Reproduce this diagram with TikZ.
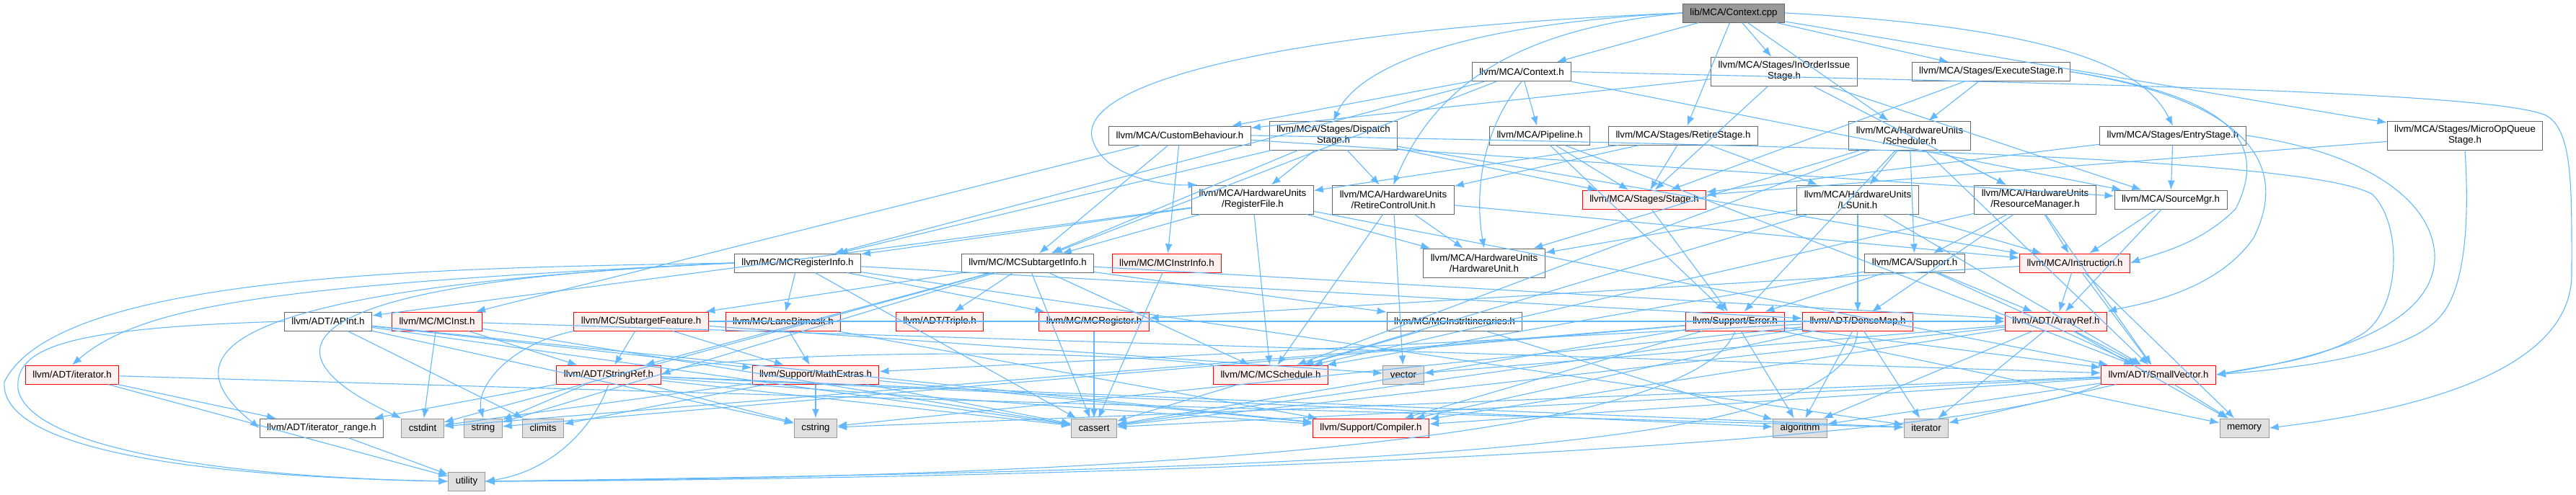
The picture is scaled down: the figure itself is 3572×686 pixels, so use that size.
\documentclass[tikz,border=0pt]{standalone}
\usepackage{fontspec}
\setmainfont{Liberation Sans}
\usepackage{tikz}
\usetikzlibrary{arrows.meta}
\definecolor{dxblue}{HTML}{63B8FF}
\definecolor{dxdark}{HTML}{666666}
\definecolor{dxmid}{HTML}{999999}
\definecolor{dxsys}{HTML}{E0E0E0}
\definecolor{dxpink}{HTML}{FFF0F0}
\tikzset{
  hdr/.style={rectangle,draw=dxdark,fill=white,line width=1pt,align=center,inner xsep=10pt,inner ysep=2pt,minimum height=26pt,font=\fontsize{13.3}{15}\selectfont},
  trunc/.style={hdr,draw=red,fill=dxpink},
  sys/.style={hdr,draw=dxmid,fill=dxsys},
  root/.style={hdr,draw=dxdark,fill=dxmid},
  two/.style={minimum height=40pt},
  inc/.style={-{Latex[length=13pt,width=10pt]},line width=1.1pt,draw=dxblue}
}
\begin{document}
\begin{tikzpicture}[x=1pt,y=-1pt]
\useasboundingbox (0,0) rectangle (3572,686);
\node[root] (cpp) at (2404,18) {lib/MCA/Context.cpp};
\node[hdr] (ctxh) at (2110,99.5) {llvm/MCA/Context.h};
\node[hdr,two] (inorder) at (2474,99) {llvm/MCA/Stages/InOrderIssue\\Stage.h};
\node[hdr] (execute) at (2761,99.5) {llvm/MCA/Stages/ExecuteStage.h};
\node[hdr] (custom) at (1636,188) {llvm/MCA/CustomBehaviour.h};
\node[hdr,two] (dispatch) at (1849,188) {llvm/MCA/Stages/Dispatch\\Stage.h};
\node[hdr] (pipeline) at (2135,188) {llvm/MCA/Pipeline.h};
\node[hdr] (retire) at (2334,188) {llvm/MCA/Stages/RetireStage.h};
\node[hdr,two] (sched) at (2648,188) {llvm/MCA/HardwareUnits\\/Scheduler.h};
\node[hdr] (entry) at (3013,188) {llvm/MCA/Stages/EntryStage.h};
\node[hdr,two] (microop) at (3418,188) {llvm/MCA/Stages/MicroOpQueue\\Stage.h};
\node[hdr,two] (regfile) at (1737,277) {llvm/MCA/HardwareUnits\\/RegisterFile.h};
\node[hdr,two] (rcu) at (1932,277) {llvm/MCA/HardwareUnits\\/RetireControlUnit.h};
\node[trunc] (stage) at (2280,277) {llvm/MCA/Stages/Stage.h};
\node[hdr,two] (lsunit) at (2576,277) {llvm/MCA/HardwareUnits\\/LSUnit.h};
\node[hdr,two] (resmgr) at (2822,277) {llvm/MCA/HardwareUnits\\/ResourceManager.h};
\node[hdr] (srcmgr) at (3010,277) {llvm/MCA/SourceMgr.h};
\node[hdr] (reginfo) at (1106,365) {llvm/MC/MCRegisterInfo.h};
\node[hdr] (sti) at (1425,365) {llvm/MC/MCSubtargetInfo.h};
\node[trunc] (instrinfo) at (1618,365) {llvm/MC/MCInstrInfo.h};
\node[hdr,two] (hwunit) at (2058,365) {llvm/MCA/HardwareUnits\\/HardwareUnit.h};
\node[hdr] (support) at (2655,365) {llvm/MCA/Support.h};
\node[trunc] (instr) at (2877,365) {llvm/MCA/Instruction.h};
\node[hdr] (apint) at (455,446) {llvm/ADT/APInt.h};
\node[trunc] (mcinst) at (606,446) {llvm/MC/MCInst.h};
\node[trunc] (stfeat) at (889,446) {llvm/MC/SubtargetFeature.h};
\node[trunc] (lanebm) at (1086,446) {llvm/MC/LaneBitmask.h};
\node[trunc] (triple) at (1303,446) {llvm/ADT/Triple.h};
\node[trunc] (mcreg) at (1517,446) {llvm/MC/MCRegister.h};
\node[hdr] (itin) at (2017,446) {llvm/MC/MCInstrItineraries.h};
\node[trunc] (error) at (2406,446) {llvm/Support/Error.h};
\node[trunc] (densemap) at (2576,446) {llvm/ADT/DenseMap.h};
\node[trunc] (arrayref) at (2851,446) {llvm/ADT/ArrayRef.h};
\node[trunc] (iterh) at (100,520) {llvm/ADT/iterator.h};
\node[trunc] (strref) at (844,520) {llvm/ADT/StringRef.h};
\node[trunc] (mathext) at (1131,520) {llvm/Support/MathExtras.h};
\node[trunc] (mcsched) at (1762,520) {llvm/MC/MCSchedule.h};
\node[sys] (vector) at (1946,520) {vector};
\node[trunc] (smallvec) at (2993,520) {llvm/ADT/SmallVector.h};
\node[hdr] (itrange) at (446,594) {llvm/ADT/iterator\_range.h};
\node[sys] (cstdint) at (586,594) {cstdint};
\node[sys] (string) at (670,594) {string};
\node[sys] (climits) at (753,594) {climits};
\node[sys] (cstring) at (1131,594) {cstring};
\node[sys] (cassert) at (1517,594) {cassert};
\node[trunc] (compiler) at (1901,594) {llvm/Support/Compiler.h};
\node[sys] (algorithm) at (2496,594) {algorithm};
\node[sys] (iterator) at (2671,594) {iterator};
\node[sys] (memory) at (3112,594) {memory};
\node[sys] (utility) at (647,668) {utility};
\draw[inc] (cpp) -- (ctxh);
\draw[inc] (cpp) -- (inorder);
\draw[inc] (cpp) -- (execute);
\draw[inc] (cpp) -- (sched);
\draw[inc] (cpp) -- (retire);
\draw[inc] (cpp.east) .. controls (2900,40) and (2980,110) .. (entry.north);
\draw[inc] (cpp) -- (microop);
\draw[inc] (cpp.west) .. controls (2000,35) and (1880,100) .. (dispatch.north);
\draw[inc] (cpp.west) .. controls (2100,40) and (1990,120) .. (rcu.north);
\draw[inc] (cpp.west) .. controls (1800,40) and (1500,110) .. (1514,190) .. controls (1525,240) and (1600,258) .. (regfile.165);
\draw[inc] (ctxh) -- (custom);
\draw[inc] (ctxh) -- (pipeline);
\draw[inc] (ctxh.south) .. controls (2040,200) and (2050,300) .. (hwunit.north);
\draw[inc] (ctxh) -- (reginfo);
\draw[inc] (ctxh) -- (sti);
\draw[inc] (ctxh) -- (srcmgr);
\draw[inc] (ctxh.east) .. controls (2800,115) and (3450,125) .. (3530,160) .. controls (3568,180) and (3566,260) .. (3566,380) .. controls (3566,530) and (3300,575) .. (memory.east);
\draw[inc] (inorder) -- (custom);
\draw[inc] (inorder) -- (resmgr);
\draw[inc] (inorder) -- (srcmgr);
\draw[inc] (inorder) -- (stage);
\draw[inc] (execute) -- (sched);
\draw[inc] (execute) -- (stage);
\draw[inc] (execute.east) .. controls (3120,140) and (3175,230) .. (3125,330) .. controls (3070,410) and (2950,425) .. (arrayref.north east);
\draw[inc] (execute.east) .. controls (3100,135) and (3145,200) .. (3100,290) .. controls (3050,340) and (2990,352) .. (instr.east);
\draw[inc] (sched) -- (lsunit);
\draw[inc] (sched) -- (resmgr);
\draw[inc] (sched) -- (support);
\draw[inc] (sched) -- (hwunit);
\draw[inc] (sched) -- (mcsched);
\draw[inc] (sched) -- (smallvec);
\draw[inc] (sched) -- (error);
\draw[inc] (retire) -- (stage);
\draw[inc] (retire) -- (rcu);
\draw[inc] (retire) -- (regfile);
\draw[inc] (retire) -- (lsunit);
\draw[inc] (entry) -- (srcmgr);
\draw[inc] (entry) -- (stage);
\draw[inc] (entry.east) .. controls (3300,215) and (3378,290) .. (3376,360) .. controls (3372,460) and (3200,500) .. (smallvec.east);
\draw[inc] (microop) -- (stage);
\draw[inc] (microop.south) .. controls (3424,300) and (3420,400) .. (3383,440) .. controls (3340,490) and (3200,510) .. (smallvec.east);
\draw[inc] (dispatch) -- (regfile);
\draw[inc] (dispatch) -- (rcu);
\draw[inc] (dispatch) -- (stage);
\draw[inc] (dispatch) -- (reginfo);
\draw[inc] (dispatch) -- (sti);
\draw[inc] (dispatch) -- (instr);
\draw[inc] (custom.east) .. controls (2400,200) and (3200,215) .. (3290,270) .. controls (3330,310) and (3330,420) .. (3281,460) .. controls (3220,500) and (3150,505) .. (smallvec.east);
\draw[inc] (custom) -- (mcinst);
\draw[inc] (custom) -- (instrinfo);
\draw[inc] (custom) -- (sti);
\draw[inc] (custom) -- (srcmgr);
\draw[inc] (pipeline) -- (stage);
\draw[inc] (pipeline) -- (error);
\draw[inc] (pipeline) -- (smallvec);
\draw[inc] (regfile) -- (apint);
\draw[inc] (regfile) -- (smallvec);
\draw[inc] (regfile) -- (reginfo);
\draw[inc] (regfile) -- (mcsched);
\draw[inc] (regfile) -- (sti);
\draw[inc] (regfile) -- (hwunit);
\draw[inc] (rcu) -- (mcsched);
\draw[inc] (rcu) -- (hwunit);
\draw[inc] (rcu) -- (instr);
\draw[inc] (rcu) -- (vector);
\draw[inc] (stage) -- (error);
\draw[inc] (lsunit) -- (densemap);
\draw[inc] (lsunit) -- (smallvec);
\draw[inc] (lsunit) -- (mcsched);
\draw[inc] (lsunit) -- (hwunit);
\draw[inc] (lsunit) -- (instr);
\draw[inc] (resmgr) -- (support);
\draw[inc] (resmgr) -- (instr);
\draw[inc] (resmgr) -- (densemap);
\draw[inc] (resmgr) -- (smallvec);
\draw[inc] (resmgr) -- (mcsched);
\draw[inc] (srcmgr) -- (instr);
\draw[inc] (srcmgr) -- (arrayref);
\draw[inc] (reginfo.west) .. controls (400,395) and (200,420) .. (iterh.north);
\draw[inc] (reginfo.west) .. controls (300,400) and (230,490) .. (itrange.west);
\draw[inc] (reginfo) -- (lanebm);
\draw[inc] (reginfo) -- (mcreg);
\draw[inc] (reginfo) -- (densemap);
\draw[inc] (reginfo) -- (cassert);
\draw[inc] (reginfo.west) .. controls (420,390) and (340,480) .. (cstdint.north west);
\draw[inc] (reginfo) -- (iterator);
\draw[inc] (reginfo.west) .. controls (600,372) and (80,380) .. (6,530) .. controls (0,610) and (200,660) .. (utility.west);
\draw[inc] (sti) -- (arrayref);
\draw[inc] (sti) -- (strref);
\draw[inc] (sti) -- (triple);
\draw[inc] (sti) -- (itin);
\draw[inc] (sti) -- (mcsched);
\draw[inc] (sti) -- (stfeat);
\draw[inc] (sti) -- (cassert);
\draw[inc] (sti) -- (cstdint);
\draw[inc] (sti) -- (string);
\draw[inc] (instrinfo) -- (cassert);
\draw[inc] (support) -- (arrayref);
\draw[inc] (support) -- (smallvec);
\draw[inc] (support) -- (mcsched);
\draw[inc] (support) -- (error);
\draw[inc] (instr) -- (arrayref);
\draw[inc] (instr) -- (smallvec);
\draw[inc] (instr) -- (mcreg);
\draw[inc] (instr) -- (memory);
\draw[inc] (apint) -- (compiler);
\draw[inc] (apint) -- (mathext);
\draw[inc] (apint) -- (cassert);
\draw[inc] (apint) -- (climits);
\draw[inc] (apint) -- (cstring);
\draw[inc] (apint.west) .. controls (100,455) and (20,480) .. (25,540) .. controls (40,620) and (300,662) .. (utility.west);
\draw[inc] (mcinst) -- (strref);
\draw[inc] (mcinst) -- (cstdint);
\draw[inc] (mcinst) -- (cassert);
\draw[inc] (mcinst) -- (smallvec);
\draw[inc] (stfeat) -- (strref);
\draw[inc] (stfeat) -- (mathext);
\draw[inc] (stfeat.south west) .. controls (700,480) and (660,540) .. (string.north);
\draw[inc] (stfeat) -- (arrayref);
\draw[inc] (stfeat) -- (vector);
\draw[inc] (lanebm) -- (mathext);
\draw[inc] (lanebm) -- (compiler);
\draw[inc] (mcreg) -- (cassert);
\draw[inc] (itin) -- (mcsched);
\draw[inc] (itin) -- (algorithm);
\draw[inc] (error) -- (compiler);
\draw[inc] (error) -- (algorithm);
\draw[inc] (error) -- (cassert);
\draw[inc] (error) -- (cstdint);
\draw[inc] (error) -- (memory);
\draw[inc] (error) -- (string);
\draw[inc] (error.south) .. controls (2350,610) and (1600,662) .. (utility.east);
\draw[inc] (error) -- (smallvec);
\draw[inc] (densemap) -- (mathext);
\draw[inc] (densemap) -- (compiler);
\draw[inc] (densemap) -- (algorithm);
\draw[inc] (densemap) -- (cassert);
\draw[inc] (densemap) -- (cstring);
\draw[inc] (densemap) -- (iterator);
\draw[inc] (densemap.south) .. controls (2560,620) and (2000,650) .. (utility.east);
\draw[inc] (arrayref) -- (smallvec);
\draw[inc] (arrayref) -- (compiler);
\draw[inc] (arrayref) -- (algorithm);
\draw[inc] (arrayref) -- (cassert);
\draw[inc] (arrayref) -- (iterator);
\draw[inc] (arrayref) -- (memory);
\draw[inc] (arrayref) -- (vector);
\draw[inc] (iterh) -- (itrange);
\draw[inc] (iterh) -- (iterator);
\draw[inc] (iterh) -- (utility);
\draw[inc] (strref) -- (itrange);
\draw[inc] (strref) -- (compiler);
\draw[inc] (strref) -- (algorithm);
\draw[inc] (strref) -- (cassert);
\draw[inc] (strref) -- (cstring);
\draw[inc] (strref) -- (iterator);
\draw[inc] (strref) -- (string);
\draw[inc] (strref.south) .. controls (820,600) and (760,655) .. (utility.east);
\draw[inc] (mathext) -- (compiler);
\draw[inc] (mathext) -- (cassert);
\draw[inc] (mathext) -- (climits);
\draw[inc] (mathext) -- (cstdint);
\draw[inc] (mathext) -- (cstring);
\draw[inc] (mcsched.north west) .. controls (1500,482) and (1000,488) .. (strref.east);
\draw[inc] (mcsched) -- (cassert);
\draw[inc] (smallvec) -- (compiler);
\draw[inc] (smallvec) -- (algorithm);
\draw[inc] (smallvec) -- (cassert);
\draw[inc] (smallvec) -- (cstring);
\draw[inc] (smallvec) -- (iterator);
\draw[inc] (smallvec) -- (memory);
\draw[inc] (smallvec.south west) .. controls (2700,625) and (1500,665) .. (utility.east);
\draw[inc] (itrange) -- (utility);
\end{tikzpicture}
\end{document}
